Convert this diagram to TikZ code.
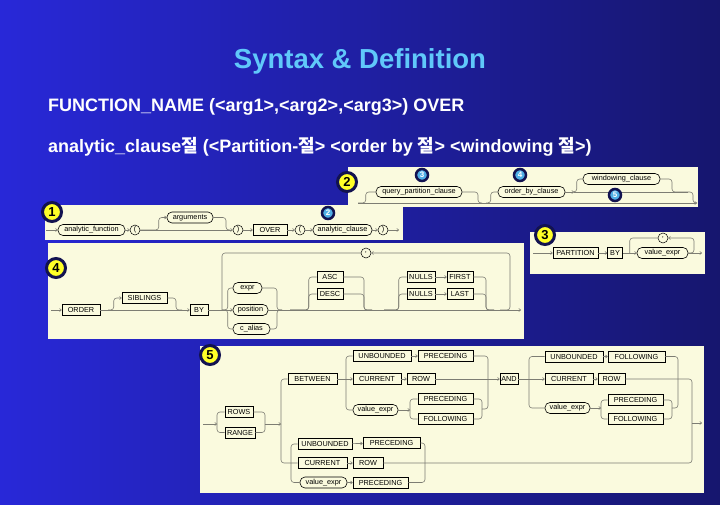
\documentclass[tikz,border=0pt]{standalone}
\usepackage{fontspec}
\setmainfont{Liberation Sans}
\newfontfamily\krfont{Noto Sans CJK KR}
\usepackage{tikz}
\usetikzlibrary{arrows.meta, positioning}

\definecolor{bgleft}{RGB}{40,40,216}
\definecolor{bgright}{RGB}{22,22,110}
\definecolor{panelcol}{RGB}{250,250,222}
\definecolor{railcol}{RGB}{125,125,115}
\definecolor{titlecol}{RGB}{96,200,250}
\definecolor{badgeyellow}{RGB}{255,255,40}
\definecolor{badgecyan}{RGB}{80,175,230}
\definecolor{navy}{RGB}{18,18,80}

\newcommand{\railfont}{\fontsize{7.3}{8}\selectfont}

\begin{document}
\begin{tikzpicture}[
    x=1pt, y=-1pt,
    term/.style={rectangle, draw, line width=0.6pt, fill=panelcol, font=\railfont, inner sep=0pt, minimum height=11pt},
    nterm/.style={term, rounded corners=5pt},
    punct/.style={circle, draw, line width=0.5pt, fill=panelcol, font=\railfont, inner sep=0pt, minimum size=10pt},
    rail/.style={draw=railcol, line width=0.6pt, rounded corners=3pt},
    arrow/.style={rail, -{To[length=2.5pt, width=3.5pt]}},
    badge/.style={circle, fill=badgeyellow, draw=navy, line width=3pt, minimum size=19pt, inner sep=0pt, font=\fontsize{13}{13}\selectfont\bfseries},
    minibadge/.style={circle, fill=badgecyan, draw=navy, line width=2.5pt, minimum size=12pt, inner sep=0pt, font=\fontsize{8}{8}\selectfont\bfseries, text=white},
    panel/.style={fill=panelcol}
]

% Background
\shade[left color=bgleft, right color=bgright] (0,0) rectangle (720,504);
\useasboundingbox (0,0) rectangle (720,504);

% Title and syntax lines
\node[font=\fontsize{27.5}{30}\selectfont\bfseries, text=titlecol] (title) at (360,61) {Syntax \& Definition};
\node[anchor=west, inner sep=0pt, font=\fontsize{18}{20}\selectfont\bfseries, text=white] (funcline) at (48,107) {FUNCTION\_NAME (<arg1>,<arg2>,<arg3>) OVER};
\node[anchor=west, inner sep=0pt, font=\fontsize{18}{20}\selectfont\bfseries, text=white] (clauseline) at (48,147) {analytic\_clause{\krfont 절} (<Partition-{\krfont 절}> <order by {\krfont 절}> <windowing {\krfont 절}>)};

% Panels
\fill[panel] (348,167) rectangle (698,207);
\fill[panel] (45,205) rectangle (403,240);
\fill[panel] (530,232) rectangle (705,274);
\fill[panel] (48,243) rectangle (524,339);
\fill[panel] (200,346) rectangle (704,493);

% 1 - analytic function
\coordinate (fnstart) at (46,230);
\node[nterm, minimum width=67pt] (afunc) at (91.5,230) {analytic\_function};
\node[punct] (lpar) at (135,230) {(};
\node[nterm, minimum width=46pt] (args) at (190,217.5) {arguments};
\node[punct] (rpar) at (238,230) {)};
\node[term, minimum width=34pt] (over) at (270,230) {OVER};
\node[punct] (lpartwo) at (300,230) {(};
\node[nterm, minimum width=59pt] (aclause) at (342.5,230) {analytic\_clause};
\node[punct] (rpartwo) at (383,230) {)};
\coordinate (argsjoin) at (226,230);
\coordinate (fnend) at (399,230);

\draw[arrow] (fnstart) -- (afunc);
\draw[arrow] (afunc) -- (lpar);
\draw[arrow] (lpar) -- (rpar);
\draw[arrow] (lpar.east) -| ([xshift=-8pt]args.west) -- (args.west);
\draw[rail] (args.east) -| (argsjoin) -- ++(4,0);
\draw[arrow] (rpar) -- (over);
\draw[arrow] (over) -- (lpartwo);
\draw[arrow] (lpartwo) -- (aclause);
\draw[arrow] (aclause) -- (rpartwo);
\draw[arrow] (rpartwo) -- (fnend);

% 2 - analytic clause
\coordinate (wnstart) at (358,203);
\coordinate (wnend) at (697,203);
\node[nterm, minimum width=86pt] (qpc) at (419,192) {query\_partition\_clause};
\node[nterm, minimum width=67pt] (obc) at (531.5,192) {order\_by\_clause};
\node[nterm, minimum width=77pt] (wclause) at (621.5,179) {windowing\_clause};
\coordinate (qpcjoin) at (478,203);
\coordinate (obcfork) at (486,203);
\coordinate (wcfork) at (574,192);
\coordinate (wcjoin) at (688,192);

\draw[arrow] (wnstart) -- (wnend);
\draw[rail] (wnstart) -| ([xshift=-10pt]qpc.west) -- (qpc.west);
\draw[rail] (qpc.east) -| (qpcjoin) -- ++(4,0);
\draw[rail] (obcfork) -| ([xshift=-7pt]obc.west) -- (obc.west);
\draw[arrow] (obc) -- (wcfork);
\draw[rail] (wcfork) -| ([xshift=-6pt]wclause.west) -- (wclause.west);
\draw[rail] (wcfork) -- (wcjoin);
\draw[rail] (wclause.east) -| ([xshift=-16pt]wcjoin) -- (wcjoin);
\draw[rail] (wcjoin) -| ([xshift=-4pt]wnend) -- (wnend);

% 3 - partition clause
\coordinate (ptstart) at (533,253);
\node[term, minimum width=45pt] (partition) at (575.5,253) {PARTITION};
\node[term, minimum width=15pt] (bythree) at (615,253) {BY};
\node[nterm, minimum width=51pt] (vexpr) at (662.5,253) {value\_expr};
\node[punct] (comma) at (663,238) {,};
\coordinate (commaturn) at (694,238);
\coordinate (ptend) at (702,253);

\draw[arrow] (ptstart) -- (partition);
\draw[arrow] (partition) -- (bythree);
\draw[arrow] (bythree) -- (vexpr);
\draw[arrow] (vexpr) -- (ptend);
\draw[arrow] (vexpr.east) -| (commaturn) -- (comma.east);
\draw[rail] (comma.west) -| ([xshift=-7pt]vexpr.west);

% 4 - order by clause
\coordinate (obstart) at (51,310);
\node[term, minimum width=38pt] (order) at (81,310) {ORDER};
\node[term, minimum width=45pt] (siblings) at (144.5,298) {SIBLINGS};
\node[term, minimum width=18pt] (byfour) at (199,310) {BY};
\node[nterm, minimum width=29pt] (expr) at (247.5,288) {expr};
\node[nterm, minimum width=35pt] (position) at (250.5,310) {position};
\node[nterm, minimum width=37pt] (calias) at (251.5,329) {c\_alias};
\node[term, minimum width=26pt] (asc) at (330,277) {ASC};
\node[term, minimum width=26pt] (desc) at (330,294) {DESC};
\node[term, minimum width=28pt] (nullsfirst) at (421,277) {NULLS};
\node[term, minimum width=26pt] (first) at (460,277) {FIRST};
\node[term, minimum width=28pt] (nullslast) at (421,294) {NULLS};
\node[term, minimum width=26pt] (last) at (460,294) {LAST};
\node[punct] (commafour) at (366,253) {,};
\coordinate (sibfork) at (108,310);
\coordinate (sibjoin) at (182,310);
\coordinate (keyfork) at (222,310);
\coordinate (keyjoin) at (282,310);
\coordinate (ascfork) at (290,310);
\coordinate (ascjoin) at (372,310);
\coordinate (nullsfork) at (384,310);
\coordinate (nullsjoin) at (494,310);
\coordinate (loopstart) at (500,310);
\coordinate (loopturn) at (510,253);
\coordinate (obend) at (521,310);

\draw[arrow] (obstart) -- (order);
\draw[arrow] (order) -- (byfour);
\draw[arrow] (sibfork) -| ([xshift=-8pt]siblings.west) -- (siblings.west);
\draw[rail] (siblings.east) -| ([xshift=-6pt]sibjoin) -- (sibjoin);
\draw[arrow] (byfour) -- (position);
\draw[rail] (keyfork) -| ([xshift=-5pt]expr.west) -- (expr.west);
\draw[rail] (keyfork) -| ([xshift=-5pt]calias.west) -- (calias.west);
\draw[rail] (expr.east) -| ([xshift=-5pt]keyjoin) -- (keyjoin);
\draw[rail] (calias.east) -| ([xshift=-5pt]keyjoin) -- (keyjoin);
\draw[arrow] (position) -- (obend);
\draw[rail] (ascfork) -| ([xshift=-8pt]asc.west) -- (asc.west);
\draw[rail] (ascfork) -| ([xshift=-8pt]desc.west) -- (desc.west);
\draw[rail] (asc.east) -| ([xshift=-8pt]ascjoin) -- (ascjoin);
\draw[rail] (desc.east) -| ([xshift=-8pt]ascjoin) -- (ascjoin);
\draw[rail] (nullsfork) -| ([xshift=-8pt]nullsfirst.west) -- (nullsfirst.west);
\draw[rail] (nullsfork) -| ([xshift=-8pt]nullslast.west) -- (nullslast.west);
\draw[arrow] (nullsfirst) -- (first);
\draw[arrow] (nullslast) -- (last);
\draw[rail] (first.east) -| ([xshift=-8pt]nullsjoin) -- (nullsjoin);
\draw[rail] (last.east) -| ([xshift=-8pt]nullsjoin) -- (nullsjoin);
\draw[arrow] (loopstart) -| (loopturn) -- (commafour.east);
\draw[rail] (commafour.west) -| (keyfork);

% 5 - windowing clause
\coordinate (wstart) at (203,424);
\coordinate (unitfork) at (217,424);
\node[term, minimum width=28pt] (rows) at (239,412) {ROWS};
\node[term, minimum width=30pt] (range) at (240,432.5) {RANGE};
\coordinate (unitjoin) at (265,424);
\coordinate (framefork) at (281,424);
\node[term, minimum width=49pt] (between) at (312.5,379) {BETWEEN};
\coordinate (startfork) at (346,379);
\node[term, minimum width=58pt] (unbpre) at (382,356) {UNBOUNDED};
\node[term, minimum width=55pt] (precone) at (445.5,356) {PRECEDING};
\node[term, minimum width=48pt] (curone) at (377,379) {CURRENT};
\node[term, minimum width=28pt] (rowone) at (421,379) {ROW};
\node[nterm, minimum width=45pt] (valone) at (375.5,410) {value\_expr};
\coordinate (valonefork) at (410,410);
\node[term, minimum width=55pt] (prectwo) at (445.5,399) {PRECEDING};
\node[term, minimum width=55pt] (follone) at (445.5,419) {FOLLOWING};
\coordinate (valonejoin) at (482,409);
\coordinate (startjoin) at (488,379);
\node[term, minimum width=18pt] (and) at (509,379) {AND};
\coordinate (endfork) at (529,379);
\node[term, minimum width=58pt] (unbfol) at (574,356.5) {UNBOUNDED};
\node[term, minimum width=57pt] (folltwo) at (636.5,356.5) {FOLLOWING};
\node[term, minimum width=48pt] (curtwo) at (569,379) {CURRENT};
\node[term, minimum width=27pt] (rowtwo) at (611.5,379) {ROW};
\node[nterm, minimum width=45pt] (valtwo) at (567.5,408) {value\_expr};
\coordinate (valtwofork) at (601,408);
\node[term, minimum width=55pt] (precthree) at (635.5,400) {PRECEDING};
\node[term, minimum width=55pt] (follthree) at (635.5,419) {FOLLOWING};
\coordinate (valtwojoin) at (672,408);
\coordinate (endjoin) at (678,379);
\coordinate (shortfork) at (291,463);
\node[term, minimum width=54pt] (unbthree) at (325,444) {UNBOUNDED};
\node[term, minimum width=57pt] (precfour) at (391.5,443) {PRECEDING};
\node[term, minimum width=49pt] (curthree) at (322.5,463) {CURRENT};
\node[term, minimum width=30pt] (rowthree) at (368,463) {ROW};
\node[nterm, minimum width=47pt] (valthree) at (323.5,482.5) {value\_expr};
\node[term, minimum width=55pt] (precfive) at (380.5,482.5) {PRECEDING};
\coordinate (shortjoin) at (425,463);
\coordinate (frameexit) at (692,423);
\coordinate (wend) at (702,423);

\draw[arrow] (wstart) -- (unitfork);
\draw[rail] (unitfork) |- (rows.west);
\draw[rail] (unitfork) |- (range.west);
\draw[rail] (rows.east) -| (unitjoin);
\draw[rail] (range.east) -| (unitjoin);
\draw[arrow] (unitjoin) -- (framefork);
\draw[rail] (framefork) |- (between.west);
\draw[rail] (framefork) |- (curthree.west);
\draw[arrow] (between) -- (curone);
\draw[rail] (startfork) |- (unbpre.west);
\draw[rail] (startfork) |- (valone.west);
\draw[arrow] (unbpre) -- (precone);
\draw[arrow] (curone) -- (rowone);
\draw[arrow] (rowone) -- (and);
\draw[arrow] (valone) -- (valonefork);
\draw[rail] (valonefork) |- (prectwo.west);
\draw[rail] (valonefork) |- (follone.west);
\draw[rail] (prectwo.east) -| (valonejoin);
\draw[rail] (follone.east) -| (valonejoin);
\draw[rail] (valonejoin) -| (startjoin);
\draw[rail] (precone.east) -| (startjoin);
\draw[arrow] (and) -- (curtwo);
\draw[rail] (endfork) |- (unbfol.west);
\draw[rail] (endfork) |- (valtwo.west);
\draw[arrow] (unbfol) -- (folltwo);
\draw[arrow] (curtwo) -- (rowtwo);
\draw[arrow] (valtwo) -- (valtwofork);
\draw[rail] (valtwofork) |- (precthree.west);
\draw[rail] (valtwofork) |- (follthree.west);
\draw[rail] (precthree.east) -| (valtwojoin);
\draw[rail] (follthree.east) -| (valtwojoin);
\draw[rail] (valtwojoin) -| (endjoin);
\draw[rail] (folltwo.east) -| (endjoin);
\draw[rail] (rowtwo.east) -| (frameexit);
\draw[rail] (shortfork) |- (unbthree.west);
\draw[rail] (shortfork) |- (valthree.west);
\draw[arrow] (unbthree) -- (precfour);
\draw[arrow] (curthree) -- (rowthree);
\draw[arrow] (valthree) -- (precfive);
\draw[rail] (precfour.east) -| (shortjoin);
\draw[rail] (precfive.east) -| (shortjoin);
\draw[rail] (rowthree.east) -| (frameexit);
\draw[arrow] (frameexit) -- (wend);

% Badges
\node[badge] (bone) at (52,212) {1};
\node[badge] (btwo) at (347,182) {2};
\node[badge] (bthree) at (545,235) {3};
\node[badge] (bfour) at (56,268) {4};
\node[badge] (bfive) at (210,355) {5};
\node[minibadge] (mtwo) at (328,213) {2};
\node[minibadge] (mthree) at (422,175) {3};
\node[minibadge] (mfour) at (520,175) {4};
\node[minibadge] (mfive) at (615,195) {5};

\end{tikzpicture}
\end{document}
